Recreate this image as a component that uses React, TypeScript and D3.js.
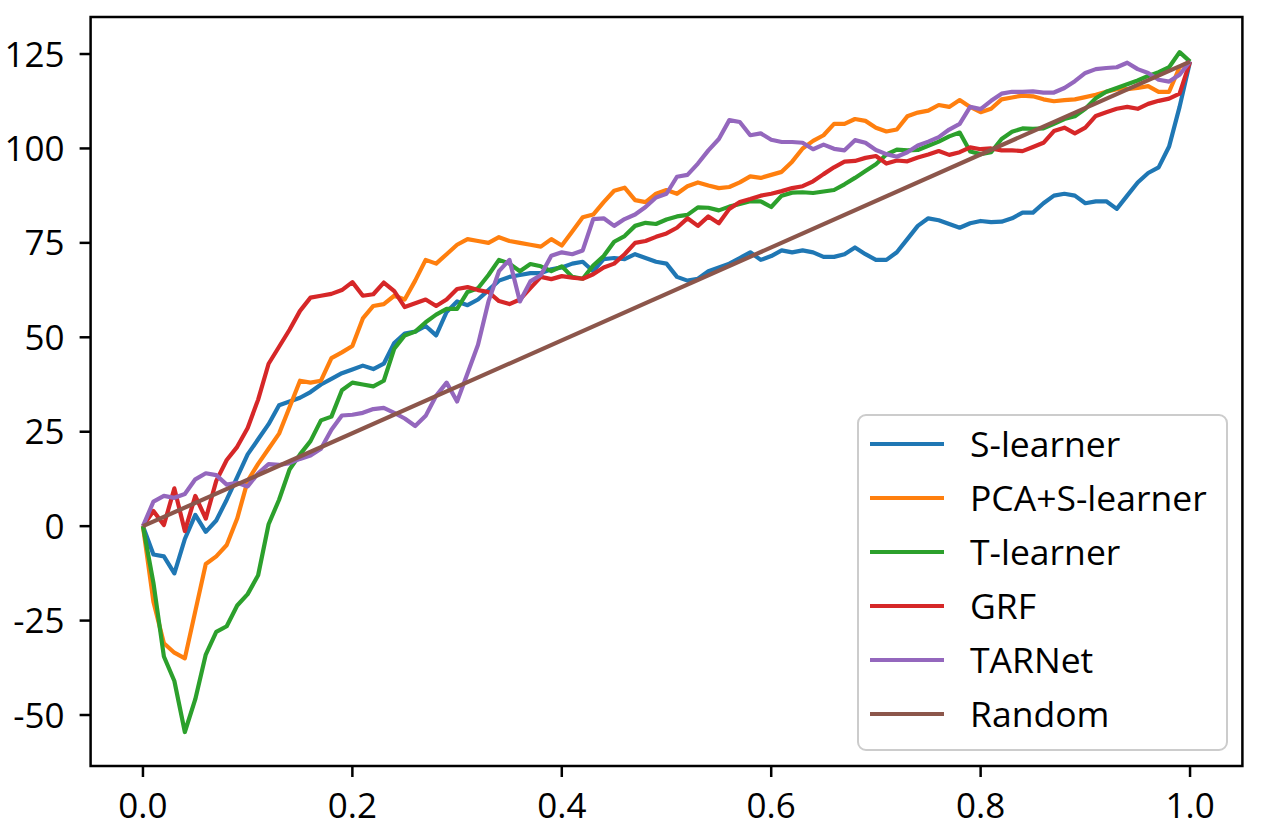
import * as d3 from "d3";

// cumulative gain curves, one value per 1% of the population (0.00 .. 1.00)
const sLearner = [
  0, -7.5, -8, -12.5, -3.4, 3, -1.5, 1.5, 7, 13,
  19, 23, 27, 32, 33, 34, 35.5, 37.5, 39, 40.5,
  41.5, 42.5, 41.6, 43, 48.5, 51, 51.5, 53, 50.5, 56.7,
  59.5, 58.5, 60, 62.5, 65, 66, 66.5, 67, 67, 68,
  68.5, 69.5, 70, 67.5, 70.7, 71, 70.7, 72, 71, 70,
  69.5, 66, 65, 65.5, 67.5, 68.5, 69.5, 71, 72.5, 70.5,
  71.5, 73, 72.5, 73, 72.5, 71.3, 71.3, 72, 73.8, 72,
  70.5, 70.5, 72.5, 76, 79.5, 81.5, 81, 80, 79, 80.2,
  80.8, 80.5, 80.6, 81.5, 83, 83, 85.5, 87.5, 88, 87.5,
  85.5, 86, 86, 84, 87.5, 91, 93.5, 95, 100.5, 111,
  123,
];

const pcaSLearner = [
  0, -20, -31, -33.5, -35, -22.5, -10, -8, -5, 2,
  12, 16.5, 20.5, 24.5, 31.5, 38.5, 38, 38.5, 44.5, 46,
  47.7, 55, 58.3, 58.8, 61, 60, 65, 70.5, 69.5, 72,
  74.5, 76, 75.5, 75, 76.5, 75.5, 75, 74.5, 74, 76,
  74.3, 78, 81.8, 82.5, 85.8, 88.8, 89.6, 86.3, 85.8, 88,
  89, 88, 90, 91, 90.2, 89.5, 89.8, 91, 92.6, 92.2,
  93, 93.8, 96.5, 100, 102, 103.5, 106.5, 106.5, 107.8, 107.3,
  105.5, 104.5, 105, 108.5, 109.5, 110, 111.5, 111, 112.8, 111,
  109.6, 110.5, 113, 113.5, 114, 113.8, 113, 112.5, 112.8, 113,
  113.6, 114.2, 115, 115.7, 115.7, 116, 116.5, 115, 115, 121.5,
  123,
];

const tLearner = [
  0, -15, -34.5, -41, -54.5, -45.8, -34, -28, -26.5, -21,
  -18, -13, 0.5, 7, 15, 19, 22.5, 28, 29, 36,
  38, 37.5, 37, 38.5, 47, 50.5, 51.5, 54, 56, 57.5,
  57.5, 62, 63, 66.5, 70.5, 69.5, 67.5, 69.4, 68.8, 67.5,
  68.8, 66, 65.5, 69, 71.5, 75.3, 76.8, 79.5, 80.3, 80,
  81.2, 82, 82.4, 84.4, 84.3, 83.6, 84.6, 85.3, 86, 86,
  84.5, 87.5, 88.3, 88.4, 88.2, 88.6, 89, 90.5, 92.2, 94,
  95.8, 98.4, 99.7, 99.5, 99.6, 100.7, 101.8, 103.2, 104.2, 99.2,
  98.5, 99, 102.5, 104.4, 105.3, 105.2, 105.3, 106.5, 107.8, 108.5,
  110.5, 113.3, 115, 116, 117, 118, 119.2, 120.2, 121.5, 125.5,
  123,
];

const grf = [
  0, 4, 0.3, 10, -1.3, 8, 2, 12, 17.5, 21,
  26, 33.5, 43, 47.5, 52, 57, 60.5, 61, 61.5, 62.5,
  64.6, 61, 61.4, 64.5, 62.2, 58, 59, 60, 58.3, 60,
  62.8, 63.3, 62.5, 62, 59.6, 58.8, 60, 63, 66, 65.4,
  66.2, 65.8, 65.5, 66.7, 68.5, 69.5, 72, 75, 75.5, 76.6,
  77.5, 79, 81.5, 79.5, 82, 80.2, 84, 85.8, 86.6, 87.5,
  88, 88.7, 89.5, 90, 91.3, 93.2, 95, 96.5, 96.7, 97.5,
  98, 96, 96.8, 96.6, 97.6, 98.4, 99.3, 98.3, 99, 100.3,
  99.8, 100, 99.5, 99.5, 99.3, 100.4, 101.5, 104.6, 105.5, 104,
  105.5, 108.6, 109.6, 110.5, 111, 110.5, 111.8, 112.6, 113.2, 114.5,
  123,
];

const tarnet = [
  0, 6.5, 8, 7.5, 8.5, 12.4, 14, 13.5, 11, 11.5,
  10.5, 14, 16.4, 16.2, 16.7, 17.8, 18.7, 20.5, 25.5, 29.3,
  29.5, 30, 31, 31.3, 30, 28.5, 26.5, 29.2, 34.5, 38,
  33, 40.5, 48, 59.5, 67.5, 70.5, 59.5, 64.8, 66.5, 71.6,
  72.5, 72, 73, 81.3, 81.5, 79.5, 81.3, 82.5, 84.5, 87,
  88, 92.5, 93, 96, 99.5, 102.5, 107.5, 107, 103.5, 104,
  102.3, 101.7, 101.7, 101.5, 99.8, 101, 99.9, 99.5, 102.2, 101.5,
  99.6, 98.5, 97.8, 99, 100.8, 101.8, 103, 105, 106.5, 111,
  110.4, 112.6, 114.5, 115, 115, 115.1, 114.8, 114.8, 116, 117.8,
  120, 121, 121.3, 121.5, 122.7, 121, 120, 118.2, 117.7, 119.5,
  123,
];

const randomFrac = [0, 1];
const randomGain = [0, 123];

const seriesNames = ["S-learner", "PCA+S-learner", "T-learner", "GRF", "TARNet", "Random"];
const seriesColors = ["#1f77b4", "#ff7f0e", "#2ca02c", "#d62728", "#9467bd", "#8c564b"];

const xTicks = [0, 0.2, 0.4, 0.6, 0.8, 1.0];
const yTicks = [-50, -25, 0, 25, 50, 75, 100, 125];

const W = 1280;
const H = 838;
const plot = { left: 90.6, right: 1242.4, top: 17, bottom: 766 };
const FONT = "'Open Sans', 'Noto Sans', 'DejaVu Sans', sans-serif";

export default function App() {
  const x = d3.scaleLinear().domain([-0.05, 1.05]).range([plot.left, plot.right]);
  const y = d3.scaleLinear().domain([-63.5, 134.8]).range([plot.bottom, plot.top]);

  const toPoints = (vals: number[], fr?: number[]) =>
    vals.map((v, i) => [fr ? fr[i] : i / (vals.length - 1), v] as [number, number]);

  const curves = [
    toPoints(sLearner),
    toPoints(pcaSLearner),
    toPoints(tLearner),
    toPoints(grf),
    toPoints(tarnet),
    toPoints(randomGain, randomFrac),
  ];

  const line = d3
    .line<[number, number]>()
    .x((d) => x(d[0]))
    .y((d) => y(d[1]));

  const legend = { x: 858, y: 415, w: 369, h: 335 };

  return (
    <svg
      width={W}
      height={H}
      style={{ position: "absolute", left: 0, top: 0, background: "#fff" }}
      fontFamily={FONT}
    >
      <rect x={0} y={0} width={W} height={H} fill="#fff" />

      {curves.map((pts, i) => (
        <path
          key={seriesNames[i]}
          d={line(pts) ?? ""}
          fill="none"
          stroke={seriesColors[i]}
          strokeWidth={4.2}
          strokeLinejoin="round"
        />
      ))}

      <rect
        x={plot.left}
        y={plot.top}
        width={plot.right - plot.left}
        height={plot.bottom - plot.top}
        fill="none"
        stroke="#000"
        strokeWidth={2.5}
      />

      {xTicks.map((t) => (
        <g key={"x" + t}>
          <line x1={x(t)} x2={x(t)} y1={plot.bottom} y2={plot.bottom + 11} stroke="#000" strokeWidth={2.5} />
          <text x={x(t)} y={plot.bottom + 52} textAnchor="middle" fontSize={35} fill="#000">
            {t.toFixed(1)}
          </text>
        </g>
      ))}

      {yTicks.map((t) => (
        <g key={"y" + t}>
          <line x1={plot.left - 11} x2={plot.left} y1={y(t)} y2={y(t)} stroke="#000" strokeWidth={2.5} />
          <text x={plot.left - 26} y={y(t)} dy="0.36em" textAnchor="end" fontSize={35} fill="#000">
            {String(t)}
          </text>
        </g>
      ))}

      <rect
        x={legend.x}
        y={legend.y}
        width={legend.w}
        height={legend.h}
        rx={8}
        fill="#fff"
        fillOpacity={0.8}
        stroke="#cccccc"
        strokeWidth={2}
      />
      {seriesNames.map((name, i) => {
        const ry = 444 + i * 54;
        return (
          <g key={"lg" + name}>
            <line x1={870} x2={944} y1={ry} y2={ry} stroke={seriesColors[i]} strokeWidth={4.2} />
            <text x={970} y={ry} dy="0.36em" fontSize={35.5} fill="#000">
              {name}
            </text>
          </g>
        );
      })}
    </svg>
  );
}
